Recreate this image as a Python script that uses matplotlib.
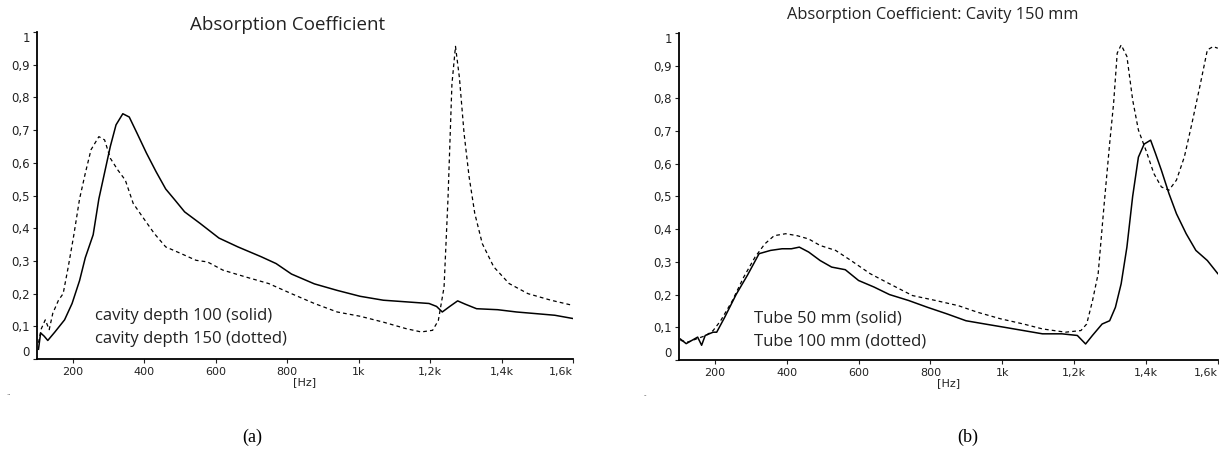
import matplotlib
matplotlib.use("Agg")
import matplotlib.pyplot as plt

# (a) cavity depth 100 (solid) / 150 (dotted)
a_solid_f = [104, 110, 120, 130, 150, 177, 198, 219, 235, 257, 273, 289, 305, 321, 340, 358, 380,
             406, 433, 460, 486, 513, 556, 609, 662, 727, 769, 812, 876, 940, 1004, 1069, 1133,
             1197, 1218, 1234, 1255, 1277, 1298, 1330, 1389, 1442, 1496, 1549, 1600]
a_solid_v = [0.03, 0.08, 0.07, 0.057, 0.083, 0.12, 0.17, 0.24, 0.31, 0.38, 0.49, 0.57, 0.65, 0.716,
             0.75, 0.74, 0.69, 0.63, 0.573, 0.52, 0.486, 0.45, 0.415, 0.37, 0.343, 0.313, 0.292,
             0.26, 0.23, 0.21, 0.192, 0.18, 0.175, 0.17, 0.161, 0.144, 0.161, 0.178, 0.168, 0.154,
             0.151, 0.144, 0.139, 0.134, 0.124]
a_dot_f = [104, 112, 123, 134, 144, 160, 173, 187, 203, 219, 235, 251, 273, 289, 305, 326, 347, 369,
           395, 428, 460, 502, 545, 577, 620, 684, 748, 812, 876, 940, 1004, 1069, 1133, 1175, 1207,
           1223, 1239, 1250, 1261, 1271, 1282, 1295, 1309, 1325, 1346, 1378, 1421, 1474, 1538, 1600]
a_dot_v = [0.05, 0.093, 0.12, 0.09, 0.14, 0.18, 0.2, 0.28, 0.38, 0.49, 0.568, 0.64, 0.68, 0.67, 0.614,
           0.578, 0.547, 0.476, 0.435, 0.384, 0.343, 0.323, 0.302, 0.297, 0.272, 0.251, 0.231, 0.2,
           0.17, 0.144, 0.131, 0.113, 0.093, 0.083, 0.088, 0.118, 0.22, 0.49, 0.84, 0.956, 0.86,
           0.69, 0.558, 0.445, 0.353, 0.282, 0.231, 0.2, 0.18, 0.164]

# (b) tube 50 mm (solid) / 100 mm (dotted)
b_solid_f = [104, 120, 136, 152, 163, 173, 195, 205, 227, 259, 291, 323, 355, 387, 413, 435, 461,
             493, 525, 563, 600, 643, 686, 739, 792, 846, 899, 952, 1006, 1059, 1112, 1166, 1209,
             1232, 1251, 1278, 1299, 1315, 1331, 1347, 1363, 1379, 1395, 1413, 1427, 1443, 1464,
             1485, 1512, 1539, 1571, 1600]
b_solid_v = [0.064, 0.05, 0.06, 0.07, 0.045, 0.075, 0.085, 0.085, 0.13, 0.2, 0.26, 0.325, 0.335,
             0.34, 0.34, 0.345, 0.33, 0.304, 0.284, 0.276, 0.243, 0.223, 0.2, 0.182, 0.161, 0.141,
             0.12, 0.11, 0.1, 0.09, 0.08, 0.08, 0.075, 0.049, 0.075, 0.11, 0.12, 0.161, 0.233, 0.345,
             0.5, 0.62, 0.66, 0.672, 0.63, 0.58, 0.509, 0.447, 0.386, 0.335, 0.304, 0.264]
b_dot_f = [104, 125, 150, 175, 195, 216, 248, 280, 312, 339, 365, 397, 429, 461, 493, 536, 579, 632,
           686, 750, 814, 878, 931, 995, 1059, 1112, 1176, 1219, 1235, 1251, 1267, 1283, 1299, 1310,
           1320, 1331, 1347, 1363, 1379, 1400, 1422, 1443, 1464, 1485, 1507, 1528, 1550, 1571, 1587,
           1600]
b_dot_v = [0.06, 0.055, 0.065, 0.075, 0.09, 0.12, 0.18, 0.253, 0.315, 0.355, 0.38, 0.386, 0.38, 0.37,
           0.35, 0.335, 0.304, 0.264, 0.233, 0.197, 0.182, 0.166, 0.146, 0.126, 0.11, 0.095, 0.085,
           0.09, 0.11, 0.18, 0.264, 0.468, 0.662, 0.785, 0.938, 0.963, 0.928, 0.795, 0.703, 0.641,
           0.57, 0.529, 0.519, 0.55, 0.621, 0.723, 0.836, 0.948, 0.958, 0.953]

x_ticks = [200, 400, 600, 800, 1000, 1200, 1400, 1600]
x_labels = ["200", "400", "600", "800", "1k", "1,2k", "1,4k", "1,6k"]
y_ticks = [0, 0.1, 0.2, 0.3, 0.4, 0.5, 0.6, 0.7, 0.8, 0.9, 1]
y_labels = ["0", "0,1", "0,2", "0,3", "0,4", "0,5", "0,6", "0,7", "0,8", "0,9", "1"]

fig = plt.figure(figsize=(12.19, 4.5), dpi=100)


def style_axes(ax):
    ax.set_xlim(100, 1600)
    ax.set_ylim(0, 1)
    ax.spines["top"].set_visible(False)
    ax.spines["right"].set_visible(False)
    ax.spines["left"].set_linewidth(1.3)
    ax.spines["bottom"].set_linewidth(1.3)
    ax.set_xticks(x_ticks)
    ax.set_xticklabels(x_labels)
    ax.set_yticks(y_ticks)
    ax.set_yticklabels(y_labels)
    ax.tick_params(length=3, width=0.8, pad=2, labelsize=8, colors="#222222")
    ax.tick_params(axis="y", labelsize=8.5)
    ax.tick_params(axis="x", pad=3)
    ax.get_xticklabels()[-1].set_ha("right")
    labs = ax.get_yticklabels()
    labs[0].set_va("bottom")
    labs[-1].set_va("top")
    ax.set_xlabel("[Hz]", fontsize=8, labelpad=0, color="#222222")


ax1 = fig.add_axes([0.0304, 0.202, 0.4397, 0.727])
ax1.plot(a_solid_f, a_solid_v, color="black", lw=1.1)
ax1.plot(a_dot_f, a_dot_v, color="black", lw=0.9, ls=(0, (3, 2.5)))
style_axes(ax1)
ax1.text(0.108, 0.131, "cavity depth 100 (solid)", transform=ax1.transAxes, va="center",
         fontsize=12, family="Open Sans", color="#222222")
ax1.text(0.108, 0.061, "cavity depth 150 (dotted)", transform=ax1.transAxes, va="center",
         fontsize=12, family="Open Sans", color="#222222")

ax2 = fig.add_axes([0.557, 0.2, 0.442, 0.727])
ax2.plot(b_solid_f, b_solid_v, color="black", lw=1.1)
ax2.plot(b_dot_f, b_dot_v, color="black", lw=0.9, ls=(0, (3, 2.5)))
style_axes(ax2)
ax2.text(0.139, 0.128, "Tube 50 mm (solid)", transform=ax2.transAxes, va="center",
         fontsize=12, family="Open Sans", color="#222222")
ax2.text(0.139, 0.058, "Tube 100 mm (dotted)", transform=ax2.transAxes, va="center",
         fontsize=12, family="Open Sans", color="#222222")

fig.text(0.236, 0.944, "Absorption Coefficient", ha="center", va="center",
         fontsize=13.5, family="Open Sans", color="#222222")
fig.text(0.765, 0.967, "Absorption Coefficient: Cavity 150 mm", ha="center", va="center",
         fontsize=11.8, family="Open Sans", color="#222222")

fig.text(0.207, 0.029, "(a)", ha="center", va="center", fontsize=13, family="Liberation Serif")
fig.text(0.794, 0.029, "(b)", ha="center", va="center", fontsize=13, family="Liberation Serif")
fig.text(0.007, 0.127, "..", ha="center", va="center", fontsize=5, color="#555555")
fig.text(0.529, 0.122, "-", ha="center", va="center", fontsize=5, color="#555555")

plt.savefig("out.png", dpi=100)
